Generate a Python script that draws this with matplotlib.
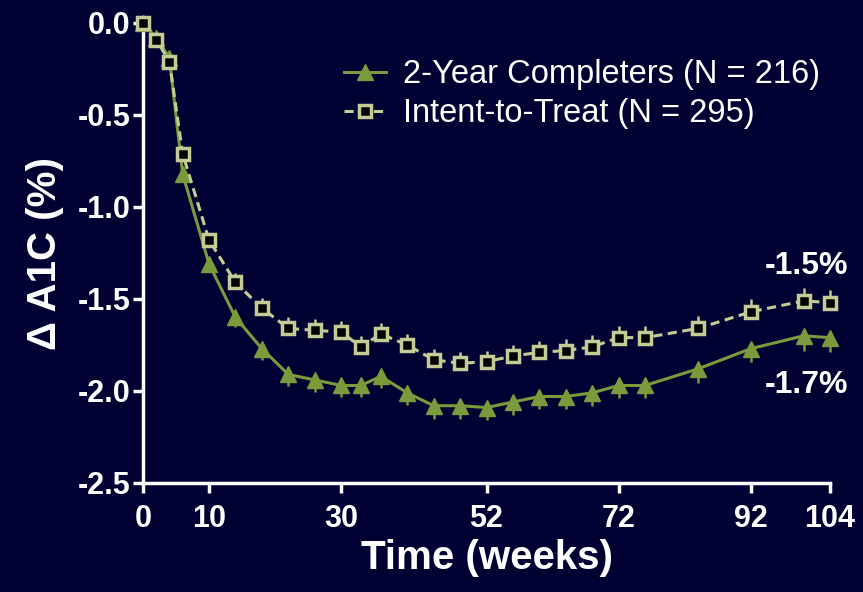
import numpy as np
import matplotlib
matplotlib.use('Agg')
import matplotlib.pyplot as plt

plt.rcParams['font.family'] = ['Liberation Sans', 'DejaVu Sans']
plt.rcParams['font.weight'] = 'bold'

# change in A1C from baseline (%), mean with SE
weeks = [0, 2, 4, 6, 10, 14, 18, 22, 26, 30, 33, 36, 40, 44, 48, 52,
         56, 60, 64, 68, 72, 76, 84, 92, 100, 104]
completers = [0.0, -0.08, -0.19, -0.82, -1.31, -1.60, -1.77, -1.91, -1.94, -1.97,
              -1.97, -1.92, -2.01, -2.08, -2.08, -2.09, -2.06, -2.03, -2.03, -2.01,
              -1.97, -1.97, -1.88, -1.77, -1.70, -1.71]
itt = [0.0, -0.09, -0.21, -0.71, -1.18, -1.41, -1.55, -1.66, -1.67, -1.68,
       -1.76, -1.69, -1.75, -1.83, -1.85, -1.84, -1.81, -1.79, -1.78, -1.76,
       -1.71, -1.71, -1.66, -1.57, -1.51, -1.52]
se_completers = [0.0, 0.01, 0.02, 0.03, 0.04, 0.05, 0.06, 0.065, 0.065, 0.065,
                 0.065, 0.065, 0.065, 0.07, 0.07, 0.07, 0.07, 0.07, 0.07, 0.07,
                 0.07, 0.07, 0.075, 0.075, 0.08, 0.08]
se_itt = [0.0, 0.01, 0.02, 0.03, 0.04, 0.05, 0.055, 0.06, 0.06, 0.06,
          0.06, 0.06, 0.06, 0.06, 0.06, 0.06, 0.06, 0.06, 0.06, 0.065,
          0.065, 0.065, 0.065, 0.07, 0.07, 0.07]
xticks = [0, 10, 30, 52, 72, 92, 104]
yticks = [0.0, -0.5, -1.0, -1.5, -2.0, -2.5]
end_labels = ['-1.5%', '-1.7%']
end_label_y = [-1.32, -1.965]

bg = '#000033'
green = '#7A9A3C'
khaki = '#C4CC96'

fig = plt.figure(figsize=(8.63, 5.92), dpi=100, facecolor=bg)
ax = fig.add_axes([143/863, 1-483/592, 687/863, 460/592], facecolor=bg)

zeros = np.zeros(len(weeks))
ax.errorbar(weeks, completers, yerr=[se_completers, zeros], fmt='none',
            ecolor=green, elinewidth=1.8, capsize=0, zorder=2, clip_on=False)
ax.plot(weeks, completers, color=green, lw=2.2, marker='^', ms=11.5,
        mfc=green, mec=green, label='2-Year Completers (N = 216)',
        zorder=3, clip_on=False)

ax.errorbar(weeks, itt, yerr=[zeros, se_itt], fmt='none',
            ecolor=khaki, elinewidth=1.8, capsize=0, zorder=4, clip_on=False)
ax.plot(weeks, itt, color=khaki, lw=2.2, ls=(0, (3, 1.8)), marker='s', ms=8,
        mfc='black', mec=khaki, mew=2.5, label='Intent-to-Treat (N = 295)',
        zorder=5, clip_on=False)

for txt, yv in zip(end_labels, end_label_y):
    ax.text(100.4, yv, txt, color='white', fontsize=23, fontweight='bold',
            ha='center', va='center')

ax.set_xlim(0, 104)
ax.set_ylim(-2.5, 0)
ax.set_xticks(xticks)
ax.set_yticks(yticks)
ax.set_yticklabels(['%.1f' % v for v in yticks])

for s in ['top', 'right']:
    ax.spines[s].set_visible(False)
for s in ['left', 'bottom']:
    ax.spines[s].set_color('white')
    ax.spines[s].set_linewidth(2.5)
ax.tick_params(colors='white', width=2.5, length=7, labelsize=22)
ax.tick_params(axis='x', pad=8)
ax.tick_params(axis='y', pad=2)

ax.set_xlabel('Time (weeks)', color='white', fontsize=29, fontweight='bold', labelpad=4)
ax.set_ylabel('\u0394 A1C (%)', color='white', fontsize=29, fontweight='bold', labelpad=10)

leg = ax.legend(loc='upper left', bbox_to_anchor=(344/863, 1-59/592),
                bbox_transform=fig.transFigure, frameon=False,
                prop={'size': 23.5, 'weight': 'normal'}, handlelength=1.3,
                handletextpad=0.5, labelspacing=0.25, borderpad=0, borderaxespad=0)
for t in leg.get_texts():
    t.set_color('white')

fig.savefig('out.png', dpi=100, facecolor=bg)
